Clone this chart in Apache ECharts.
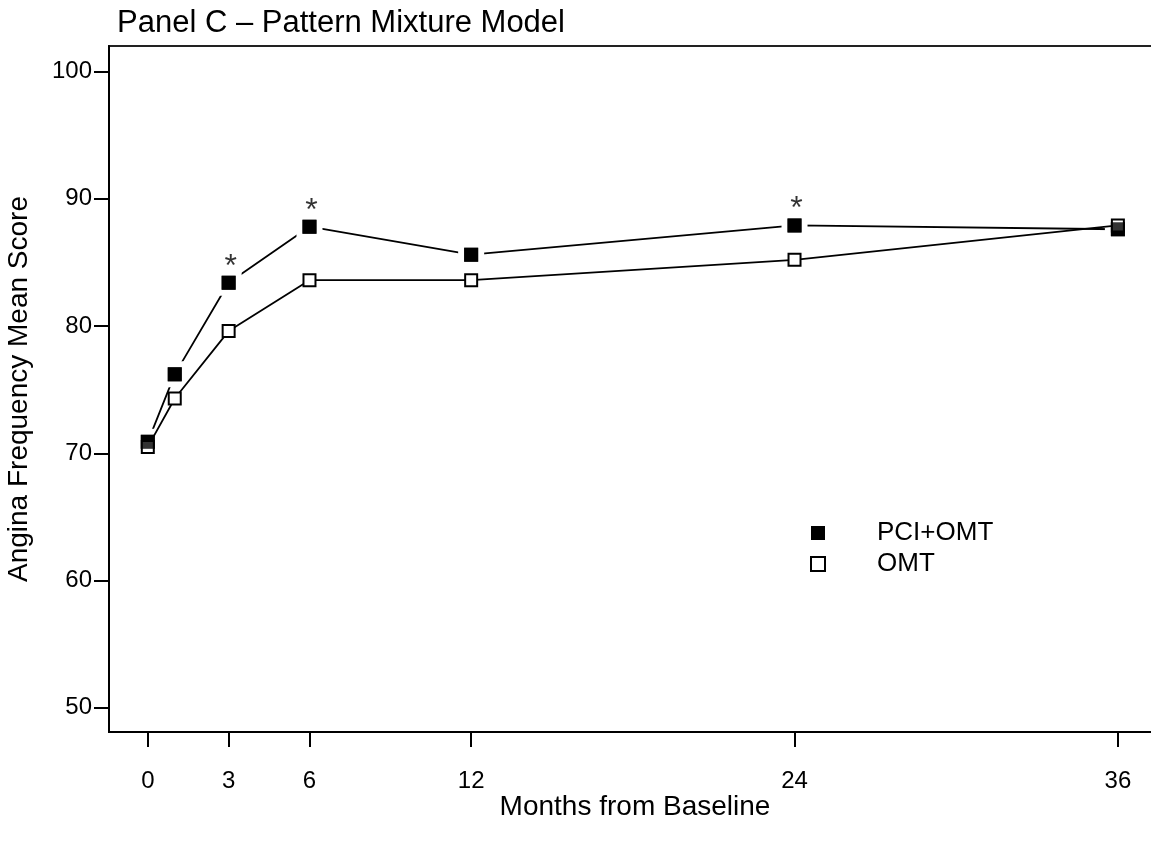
<!DOCTYPE html>
<html>
<head>
<meta charset="utf-8">
<script src="https://cdn.jsdelivr.net/npm/echarts@6/dist/echarts.min.js"></script>
<style>
  html, body { margin: 0; padding: 0; background: #fff; }
  #chart { width: 1151px; height: 847px; }
</style>
</head>
<body>
<div id="chart"></div>
<script>
const months = [0, 1, 3, 6, 12, 24, 36];
const pciOmt = [70.9, 76.2, 83.4, 87.8, 85.6, 87.9, 87.6];
const omt = [70.5, 74.3, 79.6, 83.6, 83.6, 85.2, 87.9];
const significant = [false, false, true, true, false, true, false];
const xTicks = [0, 3, 6, 12, 24, 36];
const yTicks = [50, 60, 70, 80, 90, 100];

const FONT = "'Liberation Sans', Arial, sans-serif";
const pairs = (ys) => months.map((m, i) => [m, ys[i]]);

const chart = echarts.init(document.getElementById('chart'));

chart.setOption({
  animation: false,
  backgroundColor: '#fff',
  title: {
    text: 'Panel C \u2013 Pattern Mixture Model',
    left: 117,
    top: 8,
    padding: 0,
    textStyle: { fontFamily: FONT, fontSize: 31, fontWeight: 'normal', color: '#000' },
  },
  legend: {
    orient: 'vertical',
    left: 805,
    top: 515,
    itemWidth: 14,
    itemHeight: 14,
    itemGap: 5,
    selectedMode: false,
    textStyle: { fontFamily: FONT, fontSize: 26, color: '#000', lineHeight: 26, padding: [0, 0, 0, 47] },
    data: [
      { name: 'PCI+OMT', icon: 'rect', itemStyle: { color: '#000', borderWidth: 0 } },
      { name: 'OMT', icon: 'rect', itemStyle: { color: '#fff', borderColor: '#000', borderWidth: 2 } },
    ],
  },
  grid: {
    left: 109, right: -10, top: 46, bottom: 115,
    outerBoundsMode: 'none',
    containLabel: false,
    show: true, borderColor: '#222', borderWidth: 2, backgroundColor: 'transparent',
  },
  xAxis: {
    type: 'value',
    min: -1.44,
    max: 37.6,
    name: 'Months from Baseline',
    nameLocation: 'middle',
    nameGap: 61,
    nameMoveOverlap: false,
    nameTextStyle: { fontFamily: FONT, fontSize: 28, color: '#000' },
    axisLine: { onZero: false, lineStyle: { color: '#000', width: 2 } },
    axisTick: { customValues: xTicks, length: 15, lineStyle: { color: '#000', width: 2 } },
    axisLabel: { customValues: xTicks, margin: 37, fontFamily: FONT, fontSize: 24, color: '#000' },
    splitLine: { show: false },
  },
  yAxis: {
    type: 'value',
    min: 48.1,
    max: 102,
    name: 'Angina Frequency Mean Score',
    nameLocation: 'middle',
    nameGap: 76,
    nameMoveOverlap: false,
    nameTextStyle: { fontFamily: FONT, fontSize: 28, color: '#000' },
    axisLine: { onZero: false, lineStyle: { color: '#000', width: 2 } },
    axisTick: { customValues: yTicks, length: 15, lineStyle: { color: '#000', width: 2 } },
    axisLabel: { customValues: yTicks, margin: 17, fontFamily: FONT, fontSize: 24, color: '#000' },
    splitLine: { show: false },
  },
  series: [
    {
      // line with white-rimmed markers so segments stop short of the squares
      name: 'PCI+OMT',
      type: 'line',
      z: 2,
      data: pairs(pciOmt),
      symbol: 'rect',
      symbolSize: 20,
      itemStyle: { color: '#000', borderColor: '#fff', borderWidth: 6 },
      lineStyle: { color: '#000', width: 1.8 },
    },
    {
      name: 'OMT',
      type: 'line',
      z: 3,
      data: pairs(omt),
      symbol: 'rect',
      symbolSize: 12,
      itemStyle: { color: '#fff', borderColor: '#000', borderWidth: 2 },
      lineStyle: { color: '#000', width: 1.8 },
    },
    {
      name: 'PCI+OMT',
      type: 'scatter',
      z: 4,
      data: months.map((m, i) => ({
        value: [m, pciOmt[i]],
        label: { show: significant[i] },
      })),
      symbol: 'rect',
      symbolSize: 14,
      itemStyle: { color: '#000' },
      label: {
        position: 'top',
        distance: 0,
        offset: [2, 7],
        formatter: '*',
        fontFamily: FONT,
        fontSize: 32,
        color: '#000',
      },
    },
  ],
});
</script>
</body>
</html>
